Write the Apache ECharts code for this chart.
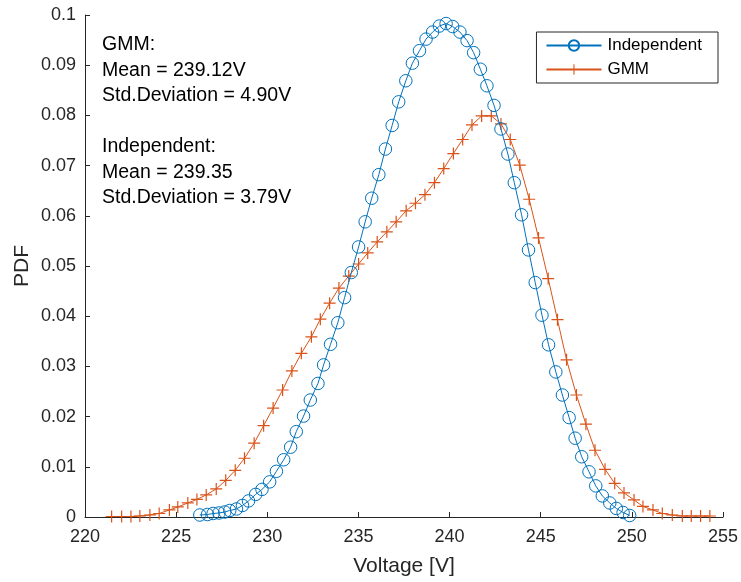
<!DOCTYPE html>
<html>
<head>
<meta charset="utf-8">
<script src="https://cdn.jsdelivr.net/npm/echarts@6/dist/echarts.min.js"></script>
<style>
html,body{margin:0;padding:0;background:#fff;}
#chart{width:741px;height:582px;}
</style>
</head>
<body>
<div id="chart"></div>
<script>
// Independent (blue, circles)
var indepX = [226.30,226.72,227.03,227.35,227.67,227.94,228.31,228.64,228.97,229.36,229.71,230.13,230.50,230.90,231.28,231.59,231.99,232.36,232.78,233.09,233.47,233.87,234.24,234.61,235.01,235.37,235.73,236.12,236.48,236.85,237.21,237.60,237.96,238.35,238.71,239.07,239.44,239.81,240.17,240.57,240.96,241.32,241.69,242.05,242.44,242.82,243.20,243.55,243.95,244.33,244.70,245.07,245.43,245.83,246.19,246.56,246.89,247.25,247.65,248.02,248.38,248.79,249.15,249.52,249.88];
var indepY = [0.0004,0.0005,0.0007,0.0008,0.0010,0.0013,0.0016,0.0023,0.0032,0.0045,0.0055,0.0070,0.0091,0.0114,0.0139,0.0170,0.0201,0.0233,0.0266,0.0303,0.0344,0.0387,0.0437,0.0487,0.0538,0.0588,0.0635,0.0682,0.0733,0.0780,0.0827,0.0869,0.0904,0.0929,0.0952,0.0966,0.0978,0.0983,0.0977,0.0966,0.0949,0.0925,0.0892,0.0859,0.0820,0.0773,0.0723,0.0666,0.0602,0.0532,0.0467,0.0402,0.0343,0.0289,0.0243,0.0198,0.0157,0.0120,0.0090,0.0062,0.0042,0.0028,0.0017,0.0009,0.0003];
// GMM (orange, plus)
var gmmX = [221.46,222.01,222.52,223.01,223.56,224.07,224.63,225.09,225.64,226.14,226.65,227.20,227.72,228.24,228.75,229.28,229.80,230.32,230.84,231.35,231.87,232.42,232.91,233.42,233.93,234.47,235.01,235.51,236.03,236.56,237.07,237.62,238.13,238.65,239.17,239.68,240.21,240.72,241.23,241.76,242.29,242.82,243.33,243.85,244.37,244.88,245.41,245.92,246.42,246.96,247.48,247.98,248.53,249.06,249.57,250.12,250.61,251.16,251.67,252.22,252.77,253.26,253.77,254.28];
var gmmY = [0.0001,0.0001,0.0001,0.0002,0.0004,0.0007,0.0014,0.0020,0.0028,0.0035,0.0044,0.0056,0.0073,0.0093,0.0117,0.0147,0.0182,0.0217,0.0253,0.0291,0.0326,0.0359,0.0394,0.0426,0.0456,0.0480,0.0504,0.0526,0.0548,0.0568,0.0588,0.0610,0.0625,0.0642,0.0666,0.0694,0.0724,0.0752,0.0781,0.0799,0.0799,0.0783,0.0752,0.0701,0.0633,0.0556,0.0475,0.0393,0.0313,0.0243,0.0185,0.0133,0.0095,0.0067,0.0048,0.0034,0.0021,0.0014,0.0007,0.0004,0.0002,0.0002,0.0002,0.0002];
var seriesNames = ['Independent','GMM'];
var annotationLines = ['GMM:','Mean = 239.12V','Std.Deviation = 4.90V','','Independent:','Mean = 239.35','Std.Deviation = 3.79V'];
var yAxisTitle = 'PDF';

var BLUE = '#0072BD', ORANGE = '#D95319', AX = '#262626';
var FONT = 'Liberation Sans, Arial, Helvetica, sans-serif';
var plusPath = 'path://M4.5,0H5.5V4.5H10V5.5H5.5V10H4.5V5.5H0V4.5H4.5Z';

function pairs(xs, ys){ return xs.map(function(x,i){ return [x, ys[i]]; }); }

var chart = echarts.init(document.getElementById('chart'), null, {renderer:'canvas'});
var texts = [];
var ty = 45;
annotationLines.forEach(function(t){
  if (t !== '') {
    texts.push({type:'text', x:102, y:ty, style:{text:t, fill:'#000', font:'19.5px ' + FONT, verticalAlign:'middle', textVerticalAlign:'middle'}});
  }
  ty += 25.5;
});
texts.push({type:'text', x:22, y:266, rotation:Math.PI/2,
  style:{text:yAxisTitle, fill:AX, font:'21px ' + FONT, align:'center', verticalAlign:'middle', textAlign:'center', textVerticalAlign:'middle'}});

chart.setOption({
  animation:false,
  backgroundColor:'#fff',
  grid:{left:85, right:17, top:15, bottom:65, containLabel:false},
  xAxis:{
    type:'value', min:220, max:255, interval:5,
    name:'Voltage [V]', nameLocation:'middle', nameGap:39,
    nameTextStyle:{fontSize:21, color:AX, fontFamily:FONT},
    axisLine:{show:true, lineStyle:{color:AX, width:1}},
    axisTick:{show:true, inside:true, length:5, lineStyle:{color:AX}},
    axisLabel:{fontSize:18, color:AX, fontFamily:FONT, margin:11},
    splitLine:{show:false}
  },
  yAxis:{
    type:'value', min:0, max:0.1, interval:0.01,
    axisLine:{show:true, lineStyle:{color:AX, width:1}},
    axisTick:{show:true, inside:true, length:5, lineStyle:{color:AX}},
    axisLabel:{fontSize:18, color:AX, fontFamily:FONT, margin:9,
      formatter:function(v){ return String(+v.toFixed(2)); }},
    splitLine:{show:false}
  },
  legend:{
    right:23, top:32, orient:'vertical',
    itemWidth:55, itemHeight:13, itemGap:7,
    padding:[5,16,5,9],
    borderColor:AX, borderWidth:1, backgroundColor:'#fff',
    textStyle:{fontSize:17, lineHeight:17, color:'#000', fontFamily:FONT, padding:[0,0,0,1]},
    data:seriesNames
  },
  series:[
    {
      name:seriesNames[0], type:'line', data:pairs(indepX, indepY),
      symbol:'circle', symbolSize:12.5, showAllSymbol:true,
      lineStyle:{color:BLUE, width:1},
      itemStyle:{color:'rgba(255,255,255,0)', borderColor:BLUE, borderWidth:1},
      emphasis:{disabled:true}, z:3
    },
    {
      name:seriesNames[1], type:'line', data:pairs(gmmX, gmmY),
      symbol:plusPath, symbolSize:12, showAllSymbol:true,
      lineStyle:{color:ORANGE, width:1},
      itemStyle:{color:ORANGE, borderWidth:0},
      emphasis:{disabled:true}, z:2
    }
  ],
  graphic:texts
});
</script>
</body>
</html>
